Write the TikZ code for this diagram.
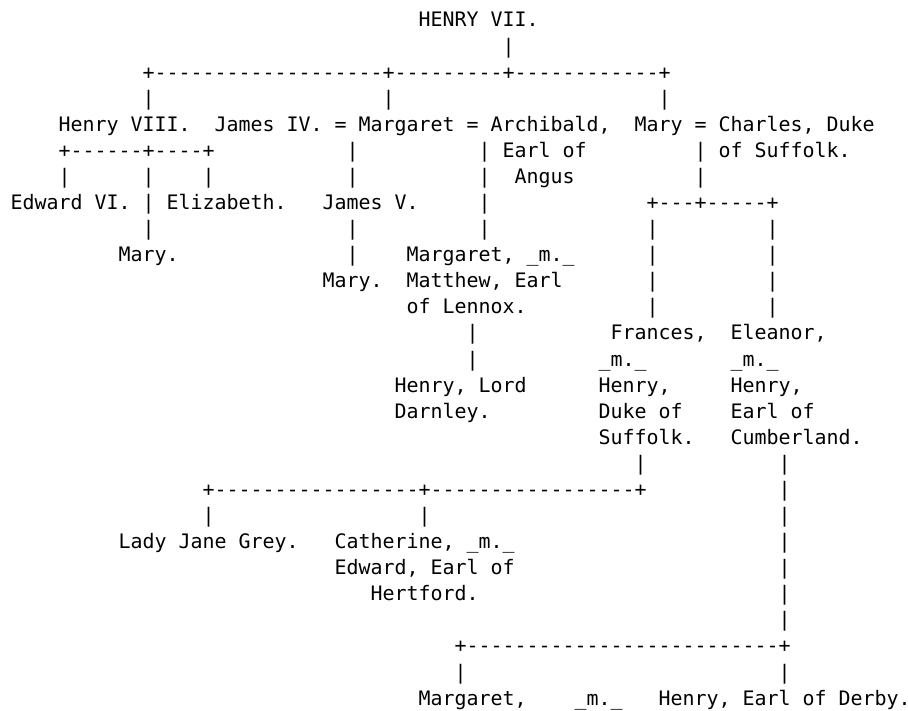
\documentclass[tikz,border=0pt]{standalone}
\usepackage{fontspec}
\setmonofont{DejaVu Sans Mono}
\tikzset{asc/.style={inner sep=0pt, outer sep=0pt, anchor=base west, font=\ttfamily\fontsize{19.93}{24}\selectfont, text=black}}
\newcommand\ascii[4]{\node[asc] (#1) at ({10.6+12*#2},{27+26.08*(#3-1)}) {#4};}
\begin{document}
\begin{tikzpicture}[x=1pt,y=-1pt]
\useasboundingbox (0,0) rectangle (908,711);
% row 1-4
\ascii{henry7}{34}{1}{HENRY VII.}
\ascii{b2}{41}{2}{|}
\ascii{l3}{11}{3}{+-------------------+---------+------------+}
\ascii{b4a}{11}{4}{|}
\ascii{b4b}{31}{4}{|}
\ascii{b4c}{54}{4}{|}
% row 5
\ascii{henry8}{4}{5}{Henry VIII.}
\ascii{margaret}{17}{5}{James IV. = Margaret = Archibald,}
\ascii{mary}{52}{5}{Mary = Charles, Duke}
% row 6
\ascii{l6}{4}{6}{+------+----+}
\ascii{b6a}{28}{6}{|}
\ascii{b6b}{39}{6}{| Earl of}
\ascii{b6c}{57}{6}{| of Suffolk.}
% row 7
\ascii{b7a}{4}{7}{|}
\ascii{b7b}{11}{7}{|}
\ascii{b7c}{16}{7}{|}
\ascii{b7d}{28}{7}{|}
\ascii{b7e}{39}{7}{|}
\ascii{angus}{42}{7}{Angus}
\ascii{b7f}{57}{7}{|}
% row 8
\ascii{edward}{0}{8}{Edward VI. | Elizabeth.}
\ascii{james5}{26}{8}{James V.}
\ascii{b8a}{39}{8}{|}
\ascii{l8}{53}{8}{+---+-----+}
% row 9
\ascii{b9a}{11}{9}{|}
\ascii{b9b}{28}{9}{|}
\ascii{b9c}{39}{9}{|}
\ascii{b9d}{53}{9}{|}
\ascii{b9e}{63}{9}{|}
% row 10
\ascii{maryA}{9}{10}{Mary.}
\ascii{b10a}{28}{10}{|}
\ascii{margaretB}{33}{10}{Margaret, \_m.\_}
\ascii{b10b}{53}{10}{|}
\ascii{b10c}{63}{10}{|}
% row 11
\ascii{maryB}{26}{11}{Mary.}
\ascii{matthew}{33}{11}{Matthew, Earl}
\ascii{b11a}{53}{11}{|}
\ascii{b11b}{63}{11}{|}
% row 12
\ascii{lennox}{33}{12}{of Lennox.}
\ascii{b12a}{53}{12}{|}
\ascii{b12b}{63}{12}{|}
% row 13
\ascii{b13a}{38}{13}{|}
\ascii{frances}{50}{13}{Frances,}
\ascii{eleanor}{60}{13}{Eleanor,}
% row 14
\ascii{b14a}{38}{14}{|}
\ascii{m14a}{49}{14}{\_m.\_}
\ascii{m14b}{60}{14}{\_m.\_}
% row 15
\ascii{darnley}{32}{15}{Henry, Lord}
\ascii{henryS}{49}{15}{Henry,}
\ascii{henryC}{60}{15}{Henry,}
% row 16
\ascii{darnley2}{32}{16}{Darnley.}
\ascii{dukeof}{49}{16}{Duke of}
\ascii{earlof}{60}{16}{Earl of}
% row 17
\ascii{suffolk}{49}{17}{Suffolk.}
\ascii{cumberland}{60}{17}{Cumberland.}
% row 18
\ascii{b18a}{52}{18}{|}
\ascii{b18b}{64}{18}{|}
% row 19
\ascii{l19}{16}{19}{+-----------------+-----------------+}
\ascii{b19}{64}{19}{|}
% row 20
\ascii{b20a}{16}{20}{|}
\ascii{b20b}{34}{20}{|}
\ascii{b20c}{64}{20}{|}
% row 21
\ascii{janegrey}{9}{21}{Lady Jane Grey.}
\ascii{catherine}{27}{21}{Catherine, \_m.\_}
\ascii{b21}{64}{21}{|}
% row 22
\ascii{edwardH}{27}{22}{Edward, Earl of}
\ascii{b22}{64}{22}{|}
% row 23
\ascii{hertford}{30}{23}{Hertford.}
\ascii{b23}{64}{23}{|}
% row 24
\ascii{b24}{64}{24}{|}
% row 25
\ascii{l25}{37}{25}{+--------------------------+}
% row 26
\ascii{b26a}{37}{26}{|}
\ascii{b26b}{64}{26}{|}
% row 27
\ascii{margaretC}{34}{27}{Margaret,}
\ascii{m27}{47}{27}{\_m.\_}
\ascii{derby}{54}{27}{Henry, Earl of Derby\rlap{.}}
\end{tikzpicture}
\end{document}
